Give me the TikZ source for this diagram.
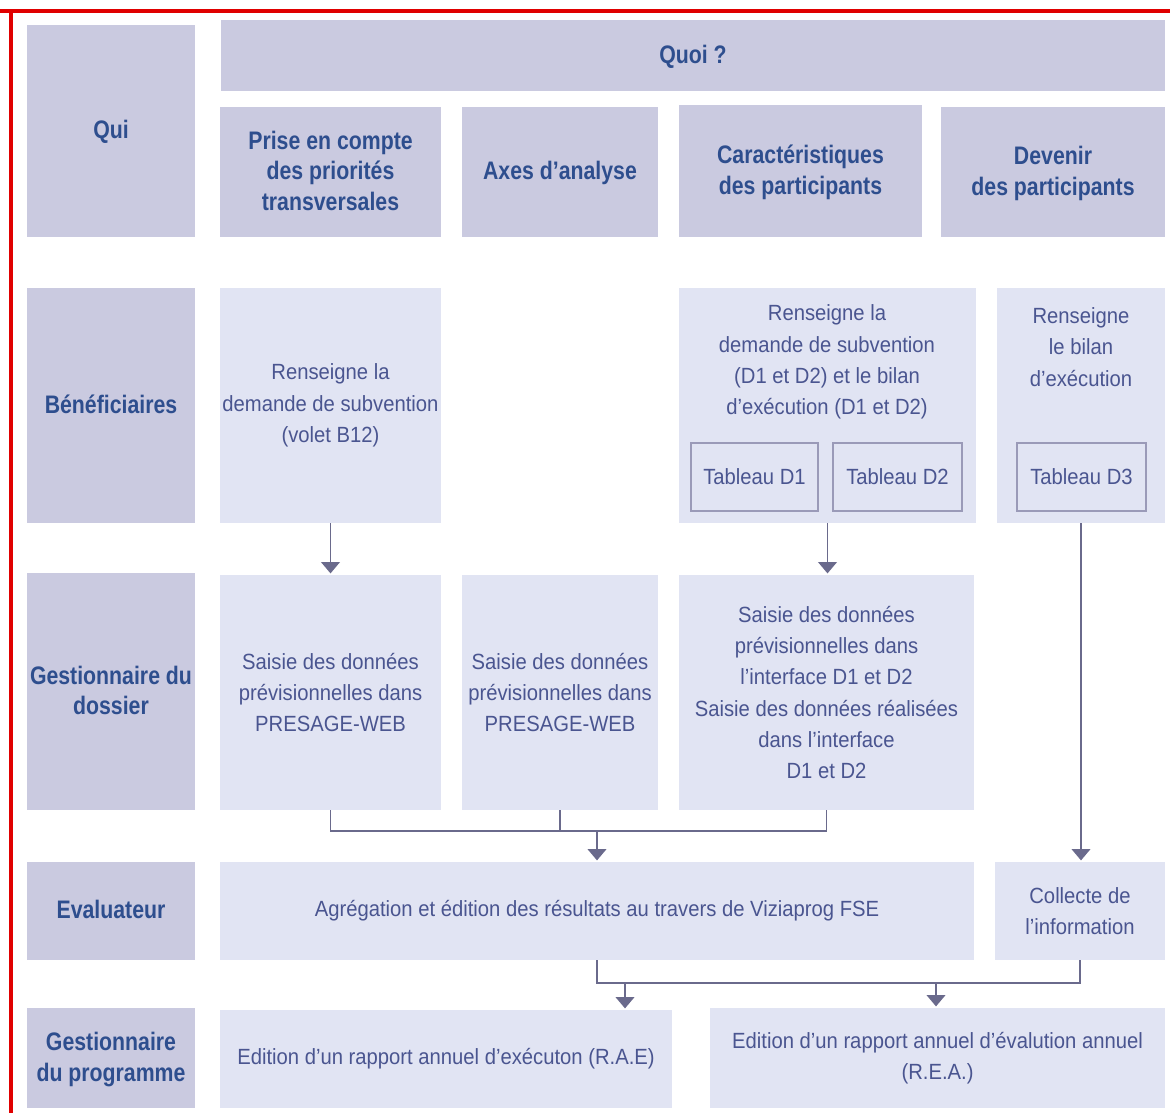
\documentclass[tikz,border=0pt]{standalone}
\usepackage{fontspec}
\setmainfont{Liberation Sans}[FakeStretch=0.92]
\newfontfamily\hdfont{Liberation Sans}[FakeStretch=0.84]
\usetikzlibrary{arrows.meta}
\definecolor{hdfill}{HTML}{CACAE0}
\definecolor{bxfill}{HTML}{E1E4F3}
\definecolor{hdtext}{HTML}{2E4E8E}
\definecolor{bxtext}{HTML}{4A5590}
\definecolor{conn}{HTML}{6A6A8C}
\definecolor{tabline}{HTML}{9A9AB8}
\definecolor{redline}{HTML}{E00000}
\newcommand{\mkbox}[7]{%
  \node[#6, minimum width={(#4-#2)*0.75pt}, minimum height={(#5-#3)*0.75pt}]
    (#1) at ({(#2+#4)/2},{(#3+#5)/2}) {#7};}
\begin{document}
\begin{tikzpicture}[x=0.75pt,y=-0.75pt,
  hd/.style={fill=hdfill, draw=none, inner sep=0pt, align=center, text=hdtext,
    font=\hdfont\bfseries\fontsize{19pt}{23pt}\selectfont, text depth=2pt},
  bx/.style={fill=bxfill, draw=none, inner sep=0pt, align=center, text=bxtext,
    font=\fontsize{16.5pt}{23.5pt}\selectfont},
  txt/.style={inner sep=0pt, align=center, text=bxtext,
    font=\fontsize{16.5pt}{23.5pt}\selectfont},
  tab/.style={draw=tabline, line width=0.8pt, fill=bxfill, inner sep=0pt, align=center, text=bxtext,
    font=\fontsize{16.5pt}{23.5pt}\selectfont},
  conline/.style={draw=conn, line width=1.3pt},
  arr/.style={conline, -{Triangle[width=14pt,length=8.5pt]}, shorten >=1pt}]
\useasboundingbox (0,0) rectangle (1170,1113);
\fill[white] (0,0) rectangle (1170,1113);
\draw[redline, line width=2.6pt] (0,11) -- (1170,11);
\draw[redline, line width=2.6pt] (11,10) -- (11,1113);
% header row
\mkbox{qui}{27}{25}{195}{237}{hd}{Qui}
\mkbox{quoi}{221}{20}{1165}{91}{hd}{Quoi ?}
\mkbox{prise}{220}{107}{441}{237}{hd}{Prise en compte\\des priorités\\transversales}
\mkbox{axes}{462}{107}{658}{237}{hd}{Axes d’analyse}
\mkbox{cara}{679}{105}{922}{237}{hd}{Caractéristiques\\des participants}
\mkbox{deve}{941}{107}{1165}{237}{hd}{Devenir\\des participants}
% Beneficiaires row
\mkbox{benef}{27}{288}{195}{523}{hd}{Bénéficiaires}
\mkbox{b1}{220}{288}{441}{523}{bx}{Renseigne la\\demande de subvention\\(volet B12)}
\mkbox{b3}{679}{288}{976}{523}{bx}{}
\mkbox{b4}{997}{288}{1165}{523}{bx}{}
\node[txt] (b3t) at (827,362) {Renseigne la\\demande de subvention\\(D1 et D2) et le bilan\\d’exécution (D1 et D2)};
\node[txt] (b4t) at (1081,347) {Renseigne\\le bilan\\d’exécution};
\mkbox{td1}{691}{443}{818}{511}{tab}{Tableau D1}
\mkbox{td2}{833}{443}{962}{511}{tab}{Tableau D2}
\mkbox{td3}{1017}{443}{1146}{511}{tab}{Tableau D3}
% Gestionnaire du dossier row
\mkbox{gdos}{27}{573}{195}{810}{hd}{Gestionnaire du\\dossier}
\mkbox{g1}{220}{575}{441}{810}{bx}{Saisie des données\\prévisionnelles dans\\PRESAGE-WEB}
\mkbox{g2}{462}{575}{658}{810}{bx}{Saisie des données\\prévisionnelles dans\\PRESAGE-WEB}
\mkbox{g3}{679}{575}{974}{810}{bx}{Saisie des données\\prévisionnelles dans\\l’interface D1 et D2\\Saisie des données réalisées\\dans l’interface\\D1 et D2}
% Evaluateur row
\mkbox{eval}{27}{862}{195}{960}{hd}{Evaluateur}
\mkbox{agg}{220}{862}{974}{960}{bx}{Agrégation et édition des résultats au travers de Viziaprog FSE}
\mkbox{col}{995}{862}{1165}{960}{bx}{Collecte de\\l’information}
% Gestionnaire du programme row
\mkbox{gprog}{27}{1008}{195}{1108}{hd}{Gestionnaire\\du programme}
\mkbox{rae}{220}{1010}{672}{1108}{bx}{Edition d’un rapport annuel d’exécuton (R.A.E)}
\mkbox{rea}{710}{1008}{1165}{1108}{bx}{Edition d’un rapport annuel d’évalution annuel\\(R.E.A.)}
% connectors
\draw[arr] (b1.south) -- (b1.south |- g1.north);
\draw[arr] (b3.south) -- (b3.south |- g3.north);
\draw[arr] (b4.south) -- (b4.south |- col.north);
\coordinate (m) at (597,831);
\draw[conline] (g1.south) -- (g1.south |- m) -- (g3.south |- m) -- (g3.south);
\draw[conline] (g2.south) -- (g2.south |- m);
\draw[arr] (m) -- (m |- agg.north);
\coordinate (j) at (597,983);
\draw[conline] (agg.south -| j) -- (j) -- (j -| col.south) -- (col.south);
\coordinate (a1) at (625,983);
\coordinate (a2) at (936,983);
\draw[arr] (a1) -- (a1 |- rae.north);
\draw[arr] (a2) -- (a2 |- rea.north);
\end{tikzpicture}
\end{document}
